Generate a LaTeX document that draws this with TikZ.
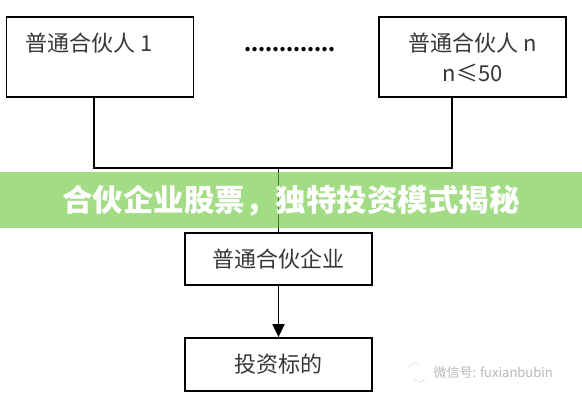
\documentclass[tikz,border=0pt]{standalone}
\usepackage{fontspec}
\usepackage{tikz}
\usetikzlibrary{arrows.meta}
\setmainfont{Noto Sans CJK SC}
\definecolor{white}{RGB}{255,255,255}
\definecolor{black}{RGB}{0,0,0}
\definecolor{leaf_green}{RGB}{108,200,62}
\definecolor{mark_grey}{RGB}{185,185,185}

\begin{document}
\begin{tikzpicture}[x=1pt,y=-1pt,
	box/.style={rectangle,draw=black,line width=1.8pt,fill=white,minimum width=187pt,inner sep=0pt},
	boxtext/.style={font=\fontsize{22}{30}\selectfont,text=black!78}]
	\useasboundingbox (0,0) rectangle (582,400);
	\fill[white] (0,0) rectangle (582,400);

	\node[box,minimum height=80pt] (p1) at (100,57) {};
	\node[boxtext,anchor=west] (p1text) at (22,43) {普通合伙人 1};
	\node[box,minimum height=80pt,boxtext,align=center] (pn) at (472.5,57) {普通合伙人 n\\n≤50};
	\node[font=\bfseries\fontsize{20}{20}\selectfont] (dots) at (286.5,50) {\makebox[84pt][s]{.\hfill.\hfill.\hfill.\hfill.\hfill.\hfill.\hfill.\hfill.\hfill.\hfill.\hfill.\hfill.}};
	\node[box,minimum height=52pt,boxtext] (firm) at (278.5,259) {普通合伙企业};
	\node[box,minimum height=53pt,boxtext] (target) at (278.5,364.5) {投资标的};

	\coordinate (j1) at (94,168);
	\coordinate (jm) at (278.5,168);
	\coordinate (jn) at (452,168);

	\draw[black,line width=1.8pt] (j1 |- p1.south) -- (j1) -- (jn) -- (jn |- pn.south);
	\draw[black,line width=1.8pt] (jm) -- (firm.north);
	\draw[black,line width=1.8pt,-{Triangle[width=12pt,length=13pt]}] (firm.south) -- (target.north);

	\fill[leaf_green,opacity=0.63] (0,172) rectangle (582,228);
	\node[font=\bfseries\fontsize{30.5}{30.5}\selectfont,text=white] (banner) at (291,201) {合伙企业股票，独特投资模式揭秘};

	\draw[mark_grey,line width=0.8pt,dotted] (409,367) arc (200:340:6);
	\draw[mark_grey,line width=0.8pt,dotted] (414,378) arc (160:20:6);
	\node[font=\fontsize{13}{13}\selectfont,text=mark_grey,anchor=west] (mark) at (430,373) {微信号: fuxianbubin};
\end{tikzpicture}
\end{document}
